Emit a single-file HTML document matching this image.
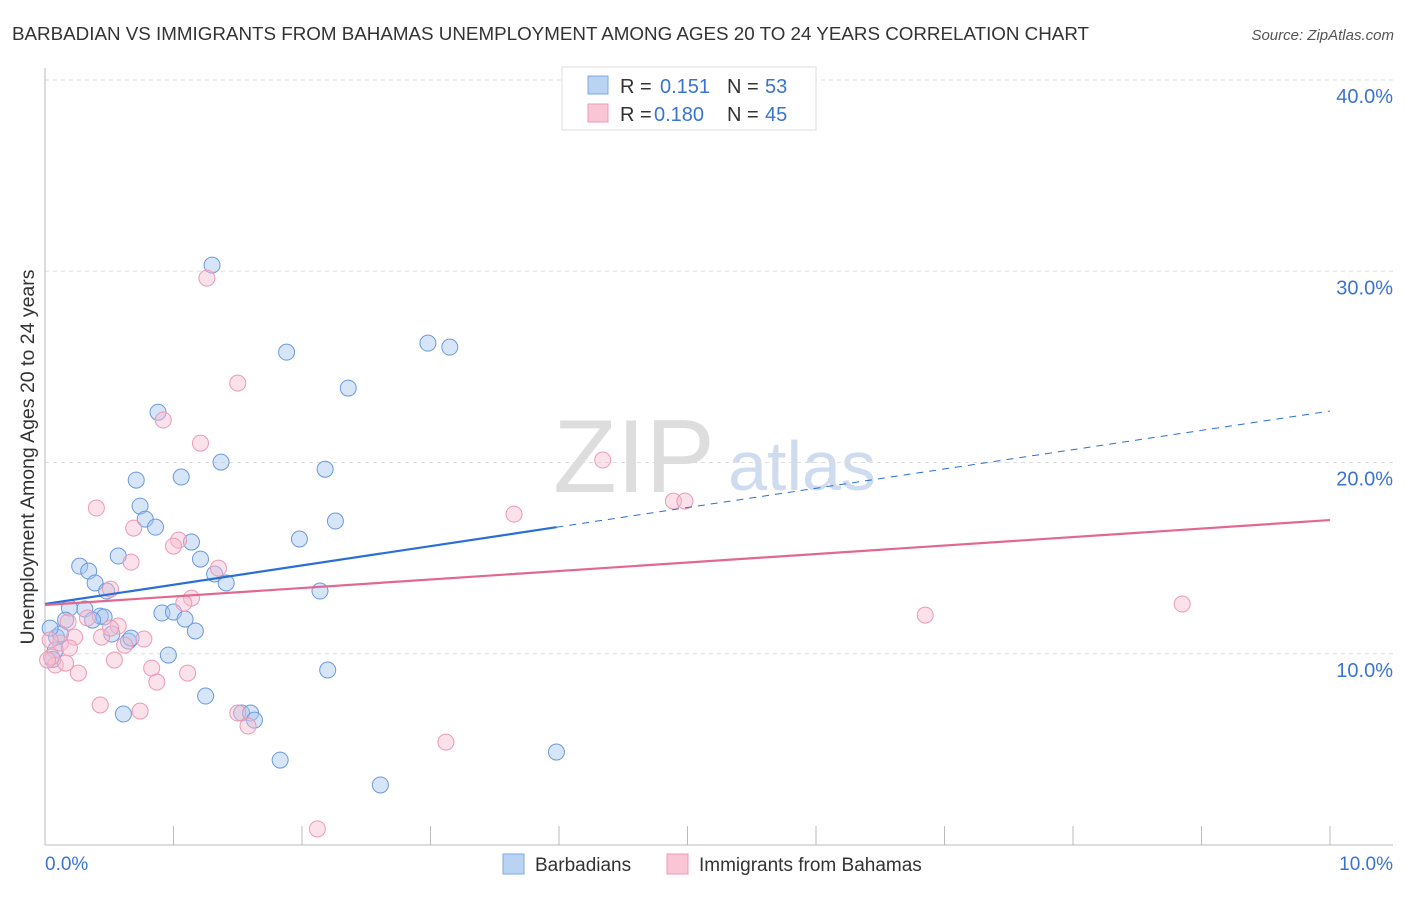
<!DOCTYPE html>
<html><head><meta charset="utf-8"><style>
body{margin:0;background:#fff;font-family:"Liberation Sans",sans-serif;}
svg text{font-family:"Liberation Sans",sans-serif;}
</style></head><body>
<svg id="chart" width="1406" height="892">
<text x="12" y="40" font-size="18.8" fill="#333">BARBADIAN VS IMMIGRANTS FROM BAHAMAS UNEMPLOYMENT AMONG AGES 20 TO 24 YEARS CORRELATION CHART</text>
<text x="1394" y="40" font-size="15" fill="#555" font-style="italic" text-anchor="end">Source: ZipAtlas.com</text>
<text x="634" y="492" font-size="104" fill="#ddd" font-family="Liberation Serif" text-anchor="middle">ZIP</text>
<text x="802" y="490" font-size="70" fill="#cfdcef" text-anchor="middle">atlas</text>
<text transform="translate(34,457) rotate(-90)" font-size="19.5" fill="#333" text-anchor="middle">Unemployment Among Ages 20 to 24 years</text>
<g id="grid"></g><g id="pts"></g><g id="lines"></g>
<g>
<rect x="562" y="67" width="254" height="63" fill="#fff" stroke="#ddd"/>
<rect x="588" y="76" width="20" height="18" fill="#b9d3f3" stroke="#7fa9e2"/>
<text x="620" y="93" font-size="20" fill="#333">R =</text><text x="660" y="93" font-size="20" fill="#3a74d0">0.151</text>
<text x="727" y="93" font-size="20" fill="#333">N =</text><text x="765" y="93" font-size="20" fill="#3a74d0">53</text>
<rect x="588" y="104" width="20" height="18" fill="#fac6d6" stroke="#ee9ab6"/>
<text x="620" y="121" font-size="20" fill="#333">R =</text><text x="654" y="121" font-size="20" fill="#3a74d0">0.180</text>
<text x="727" y="121" font-size="20" fill="#333">N =</text><text x="765" y="121" font-size="20" fill="#3a74d0">45</text>
</g>
<g>
<rect x="503" y="854" width="21" height="20" fill="#b9d3f3" stroke="#7fa9e2"/>
<text x="535" y="871" font-size="19" fill="#333">Barbadians</text>
<rect x="667" y="854" width="21" height="20" fill="#fac6d6" stroke="#ee9ab6"/>
<text x="699" y="871" font-size="19" fill="#333">Immigrants from Bahamas</text>
</g>
</svg>
<script>
const blueX=[1.30,1.88,2.98,3.15,2.36,0.88,1.37,1.06,2.18,0.71,0.74,0.78,0.86,2.26,1.14,1.98,0.57,1.21,0.27,0.34,1.32,1.41,0.39,0.48,2.14,0.31,0.19,0.91,1.00,1.09,0.43,0.46,0.16,0.37,1.17,0.52,0.09,0.65,0.67,0.12,0.04,0.96,0.08,2.20,1.25,0.61,1.53,1.60,1.63,1.83,3.98,2.61,0.06];
const blueY=[30.32,25.77,26.24,26.03,23.89,22.63,20.02,19.24,19.65,19.08,17.72,17.04,16.62,16.94,15.84,16.00,15.11,14.95,14.58,14.32,14.17,13.70,13.70,13.28,13.28,12.34,12.39,12.13,12.18,11.81,11.97,11.92,11.76,11.76,11.19,11.03,10.87,10.66,10.82,11.03,11.34,9.93,10.19,9.15,7.79,6.85,6.90,6.90,6.53,4.44,4.86,3.14,9.70];
const pinkX=[1.26,1.50,0.92,1.21,4.34,4.89,4.98,3.65,0.40,0.69,1.04,1.00,0.67,1.35,0.51,1.14,1.08,6.85,8.85,0.33,0.57,0.23,0.44,0.51,0.77,0.62,0.12,0.19,0.04,0.54,0.83,0.08,0.16,0.26,1.11,0.87,0.43,0.74,1.50,1.58,3.12,2.12,0.05,0.18,0.02];
const pinkY=[29.64,24.15,22.22,21.01,20.13,17.98,17.98,17.30,17.62,16.57,15.94,15.63,14.79,14.48,13.38,12.91,12.65,12.02,12.60,11.87,11.45,10.87,10.87,11.34,10.77,10.45,10.56,10.30,10.72,9.67,9.25,9.41,9.51,8.99,8.99,8.52,7.32,7.00,6.90,6.22,5.38,0.84,9.83,11.66,9.67];
const yTicks=[10,20,30,40];
const xTickLabels=["0.0%","10.0%"];
const blueTrend=[12.60,1.009];
const pinkTrend=[12.55,0.444];
const blueSolidEnd=3.98;
const NS="http://www.w3.org/2000/svg";
const X0=45,X1=1330,Y0=845,Y40=80;
const sx=v=>X0+(X1-X0)*v/10;
const sy=v=>Y0-(Y0-Y40)*v/40;
function mk(tag,attrs,parent){const e=document.createElementNS(NS,tag);for(const k in attrs)e.setAttribute(k,attrs[k]);parent.appendChild(e);return e;}
const grid=document.getElementById('grid');
yTicks.forEach(t=>{
 const l=mk('line',{x1:X0,x2:1393,y1:sy(t),y2:sy(t),stroke:'#ddd','stroke-dasharray':'4,4'},grid);
 
 
 const tx=mk('text',{x:1393,y:sy(t)+23,'font-size':20,fill:'#3a74d0','text-anchor':'end'},grid);
 tx.textContent=t.toFixed(1)+'%';
 
 
});
const ax=mk('line',{x1:X0,x2:1393,y1:Y0,y2:Y0,stroke:'#bbb'},grid);


const ay=mk('line',{x1:X0,x2:X0,y1:68,y2:Y0,stroke:'#bbb'},grid);


for(let i=0;i<=10;i++){
 const t=mk('line',{x1:sx(i),x2:sx(i),y1:826,y2:Y0,stroke:'#bbb'},grid);
 
 
}
xTickLabels.forEach((s,i)=>{
 const t=mk('text',{x:i?1393:45,y:870,'font-size':19,fill:'#3a74d0','text-anchor':i?'end':'start'},grid);
 t.textContent=s;
 
 
});
const pts=document.getElementById('pts');
function drawPts(xs,ys,fill,stroke,name){xs.forEach((x,i)=>{
 const c=mk('circle',{cx:sx(x),cy:sy(ys[i]),r:8,fill:fill,'fill-opacity':0.45,stroke:stroke,'stroke-width':1},pts);
 
 
});}
drawPts(blueX,blueY,'#a6c6f0','#6a9ade','barbadians-point');
drawPts(pinkX,pinkY,'#f7bccf','#ec9ab5','bahamas-point');
const lines=document.getElementById('lines');
const bl=mk('line',{x1:sx(0),y1:sy(blueTrend[0]),x2:sx(blueSolidEnd),y2:sy(blueTrend[0]+blueTrend[1]*blueSolidEnd),stroke:'#2a6fd6','stroke-width':2.2},lines);


const bd=mk('line',{x1:sx(blueSolidEnd),y1:sy(blueTrend[0]+blueTrend[1]*blueSolidEnd),x2:sx(10),y2:sy(blueTrend[0]+blueTrend[1]*10),stroke:'#2a6fd6','stroke-width':1,'stroke-dasharray':'7,6'},lines);


const pl=mk('line',{x1:sx(0),y1:sy(pinkTrend[0]),x2:sx(10),y2:sy(pinkTrend[0]+pinkTrend[1]*10),stroke:'#e2688f','stroke-width':2.2},lines);


</script>
</body></html>
